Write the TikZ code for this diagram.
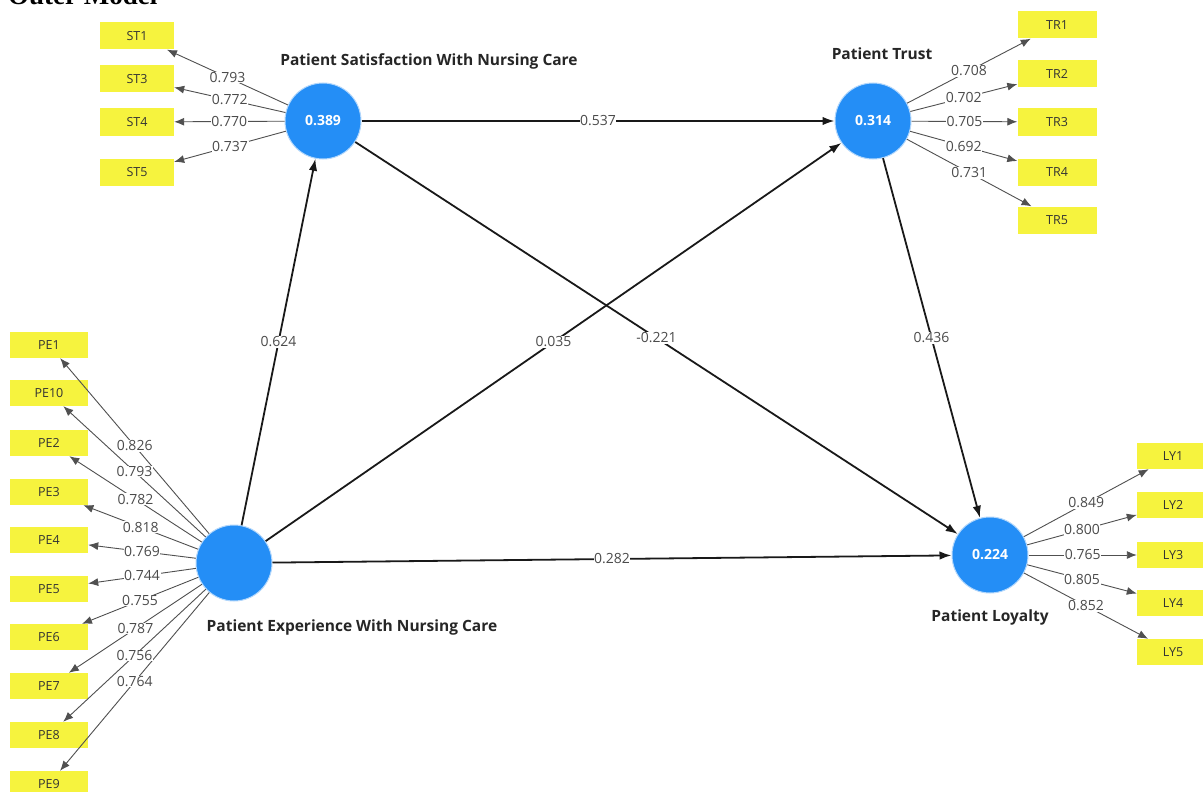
\documentclass[tikz,border=0pt]{standalone}
\usepackage{fontspec}
\setmainfont{Open Sans}
\newfontfamily\titlefont{Liberation Serif}
\usetikzlibrary{arrows.meta,calc}
\definecolor{lvblue}{RGB}{36,142,246}
\definecolor{indyellow}{RGB}{246,243,62}
\definecolor{loadgray}{RGB}{80,80,80}
\definecolor{coefgray}{RGB}{75,75,75}
\begin{document}
\begin{tikzpicture}[x=1pt,y=-1pt,
  lv/.style={circle, fill=lvblue, draw=lvblue!35, line width=1pt, minimum size=76pt, inner sep=0pt, text=white, font=\bfseries\fontsize{14}{16}\selectfont},
  ind/.style={fill=indyellow, minimum height=27pt, inner sep=0pt, text=black!80, font=\fontsize{12.5}{14}\selectfont},
  structarrow/.style={-{Latex[length=12pt,width=8.5pt]}, line width=1.8pt, black!90},
  loadarrow/.style={-{Latex[length=10pt,width=8pt]}, line width=0.9pt, loadgray},
  coef/.style={fill=white, inner sep=0.6pt, text=coefgray, font=\fontsize{14}{16}\selectfont},
  lvlabel/.style={text=black!85, font=\bfseries\fontsize{15.5}{18}\selectfont}]
\useasboundingbox (0,0) rectangle (1203,792);
\fill[white] (0,0) rectangle (1203,792);
% title
\node[anchor=base west, inner sep=0pt, font=\titlefont\bfseries\fontsize{27}{30}\selectfont] (title) at (8,5) {Outer Model};
% latent variables
\node[lv] (st) at (323,121) {0.389};
\node[lv] (tr) at (873,121) {0.314};
\node[lv] (pe) at (234,563) {};
\node[lv] (ly) at (990,555) {0.224};
% latent labels
\node[lvlabel] (stl) at (429,61) {Patient Satisfaction With Nursing Care};
\node[lvlabel] (trl) at (882,54) {Patient Trust};
\node[lvlabel] (pel) at (352,627) {Patient Experience With Nursing Care};
\node[lvlabel] (lyl) at (990,617) {Patient Loyalty};
% indicators ST
\begin{scope}[every node/.append style={ind, minimum width=74pt}]
\node (st1) at (137,36) {ST1};
\node (st3) at (137,79) {ST3};
\node (st4) at (137,122) {ST4};
\node (st5) at (137,172) {ST5};
\end{scope}
% indicators TR
\begin{scope}[every node/.append style={ind, minimum width=79pt}]
\node (tr1) at (1057,25) {TR1};
\node (tr2) at (1057,74) {TR2};
\node (tr3) at (1057,122) {TR3};
\node (tr4) at (1057,172) {TR4};
\node (tr5) at (1057,220) {TR5};
\end{scope}
% indicators PE
\begin{scope}[every node/.append style={ind, minimum width=78pt, minimum height=26pt}]
\node (pe1) at (49,345) {PE1};
\node (pe10) at (49,393) {PE10};
\node (pe2) at (49,443) {PE2};
\node (pe3) at (49,492) {PE3};
\node (pe4) at (49,540) {PE4};
\node (pe5) at (49,589) {PE5};
\node (pe6) at (49,637) {PE6};
\node (pe7) at (49,686) {PE7};
\node (pe8) at (49,735) {PE8};
\node (pe9) at (49,784) {PE9};
\end{scope}
% indicators LY
\begin{scope}[every node/.append style={ind, minimum width=72pt, minimum height=26pt}]
\node (ly1) at (1173,456) {LY1};
\node (ly2) at (1173,505) {LY2};
\node (ly3) at (1173,555) {LY3};
\node (ly4) at (1173,603) {LY4};
\node (ly5) at (1173,652) {LY5};
\end{scope}
% outer loadings lines
\foreach \a/\b in {st/st1,st/st3,st/st4,st/st5,tr/tr1,tr/tr2,tr/tr3,tr/tr4,tr/tr5,
  pe/pe1,pe/pe10,pe/pe2,pe/pe3,pe/pe4,pe/pe5,pe/pe6,pe/pe7,pe/pe8,pe/pe9,
  ly/ly1,ly/ly2,ly/ly3,ly/ly4,ly/ly5}
  \draw[loadarrow] (\a) -- (\b);
% structural paths
\draw[structarrow] (st) -- (tr);
\draw[structarrow] (pe) -- (st);
\draw[structarrow] (pe) -- (tr);
\draw[structarrow] (st) -- (ly);
\draw[structarrow] (tr) -- (ly);
\draw[structarrow] (pe) -- (ly);
% labels
\foreach \a/\b/\v in {st/st1/0.793,st/st3/0.772,st/st4/0.770,st/st5/0.737,
  tr/tr1/0.708,tr/tr2/0.702,tr/tr3/0.705,tr/tr4/0.692,tr/tr5/0.731,
  pe/pe1/0.826,pe/pe10/0.793,pe/pe2/0.782,pe/pe3/0.818,pe/pe4/0.769,
  pe/pe5/0.744,pe/pe6/0.755,pe/pe7/0.787,pe/pe8/0.756,pe/pe9/0.764,
  ly/ly1/0.849,ly/ly2/0.800,ly/ly3/0.765,ly/ly4/0.805,ly/ly5/0.852,
  st/tr/0.537,pe/st/0.624,pe/tr/0.035,st/ly/-0.221,tr/ly/0.436,pe/ly/0.282}
  \path (\a) -- node[coef] {\v} (\b);
\end{tikzpicture}
\end{document}
